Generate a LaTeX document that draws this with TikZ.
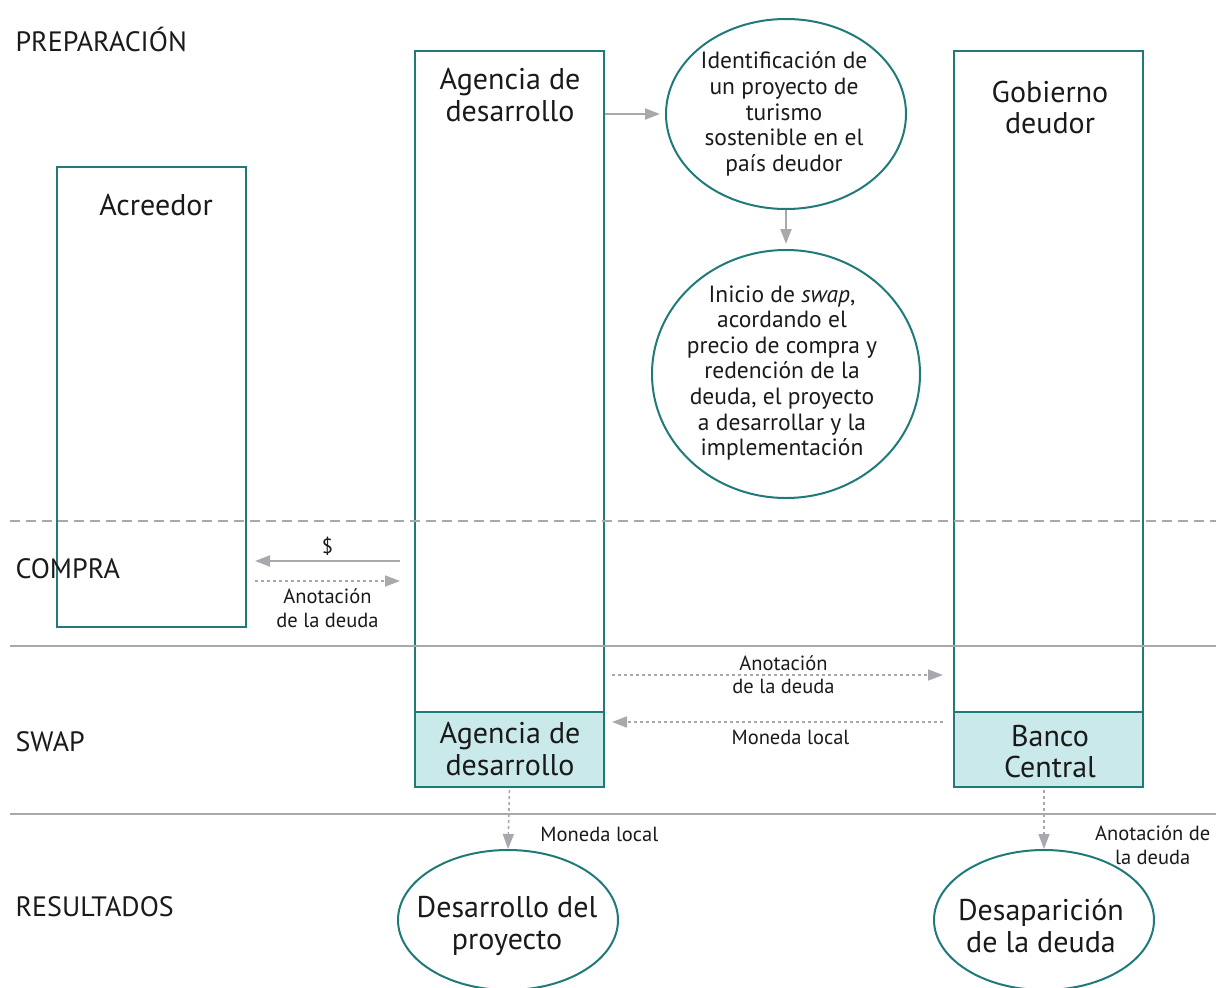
\documentclass[tikz,border=0pt]{standalone}
\usepackage{fontspec}
\setmainfont{PT Sans}
\usetikzlibrary{arrows.meta,shapes.geometric,positioning}

\definecolor{petrol}{HTML}{1F7A78}
\definecolor{celeste}{HTML}{C9E9EA}
\definecolor{gris}{HTML}{A7A9AC}
\definecolor{tinta}{HTML}{1A1A1A}

\tikzset{
  caja/.style={draw=petrol, line width=2pt, inner sep=0pt, minimum width=189pt},
  globo/.style={ellipse, draw=petrol, line width=2pt, inner sep=0pt},
  flecha/.style={gris, line width=2pt, -{Triangle[length=15pt,width=11pt]}},
  punteada/.style={flecha, line width=1.6pt, dash pattern=on 3pt off 3pt},
  titulo/.style={text=tinta, font=\fontsize{30}{31.5}\selectfont, align=center},
  texto/.style={text=tinta, font=\fontsize{23.5}{25.6}\selectfont, align=center},
  etiqueta/.style={text=tinta, font=\fontsize{20.5}{23.5}\selectfont, align=center},
  fase/.style={text=tinta, font=\fontsize{28}{30}\selectfont, anchor=west}
}

\begin{document}
\begin{tikzpicture}[x=1pt, y=-1pt]

  \useasboundingbox (0,0) rectangle (1216,988);

  % cajas
  \node[caja, minimum height=460pt] (acreedor) at (151.5,397) {};
  \node[caja, minimum height=661pt] (agencia) at (509.5,381.5) {};
  \node[caja, minimum height=75pt, fill=celeste] (agenciaB) at (509.5,749.5) {};
  \node[caja, minimum height=661pt] (gobierno) at (1048.5,381.5) {};
  \node[caja, minimum height=75pt, fill=celeste] (banco) at (1048.5,749.5) {};

  % separadores
  \draw[gris, line width=2pt, dash pattern=on 10pt off 6pt] (10,521) -- (1216,521);
  \draw[gris, line width=2pt] (10,646) -- (1216,646);
  \draw[gris, line width=2pt] (10,814) -- (1216,814);

  \node[fase] (prep) at (12,39) {PREPARACIÓN};
  \node[fase] (compra) at (12,569) {COMPRA};
  \node[fase] (swap) at (12,742) {SWAP};
  \node[fase] (result) at (12,907) {RESULTADOS};

  \node[titulo] (tAcreedor) at (156,205) {Acreedor};
  \node[titulo] (tAgencia) at (510,95) {Agencia de\\desarrollo};
  \node[titulo] (tGobierno) at (1050,107.5) {Gobierno\\deudor};
  \node[titulo] (tAgenciaB) at (510,749) {Agencia de\\desarrollo};
  \node[titulo] (tBanco) at (1050,751.5) {Banco\\Central};

  \node[globo, minimum width=240pt, minimum height=190pt] (ident) at (786,114) {};
  \node[texto] (tIdent) at (784,114)
    {Identificación de\\un proyecto de\\turismo\\sostenible en el\\país deudor};
  \node[globo, minimum width=268pt, minimum height=248pt] (inicio) at (786,374) {};
  \node[texto] (tInicio) at (782,373)
    {Inicio de \textit{swap},\\acordando el\\precio de compra y\\redención de la\\deuda, el proyecto\\a desarrollar y la\\implementación};
  \node[globo, minimum width=220pt, minimum height=140pt] (desarrollo) at (508,920) {};
  \node[titulo] (tDesarrollo) at (507,926) {Desarrollo del\\proyecto};
  \node[globo, minimum width=220pt, minimum height=140pt] (desaparicion) at (1044,920) {};
  \node[titulo] (tDesaparicion) at (1041,926) {Desaparición\\de la deuda};

  % flechas
  \draw[flecha, shorten >=5pt] (ident.west -| agencia.east) -- (ident.west);
  \draw[flecha, shorten >=5pt] (ident.south) -- (inicio.north);

  \coordinate (c1) at (400,561);
  \coordinate (c2) at (255,581);
  \draw[flecha] (c1) -- node[etiqueta, above=1pt] {\$} (c1 -| c2);
  \draw[punteada] (c2) -- node[etiqueta, below=4pt] {Anotación\\de la deuda} (c2 -| c1);

  \coordinate (c3) at (612,675);
  \coordinate (c4) at (943,722);
  \draw[punteada] (c3) -- node[etiqueta, above=0pt, xshift=6pt] {Anotación}
    node[etiqueta, below=0pt, xshift=6pt] {de la deuda} (c3 -| c4);
  \draw[punteada] (c4) -- node[etiqueta, below=4pt, xshift=13pt] {Moneda local} (c4 -| c3);

  \draw[punteada, shorten <=2pt] (agenciaB.south) -- (desarrollo.north)
    node[etiqueta, pos=0.76, right=28pt] {Moneda local};
  \draw[punteada, shorten <=2pt] (banco.south -| desaparicion.north) -- (desaparicion.north)
    node[etiqueta, pos=0.94, right=47pt] {Anotación de\\la deuda};

\end{tikzpicture}
\end{document}
